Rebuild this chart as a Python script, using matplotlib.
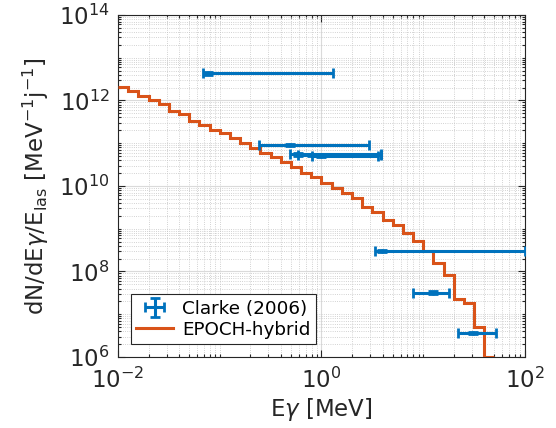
import numpy as np
import matplotlib
matplotlib.use("Agg")
import matplotlib.pyplot as plt
from matplotlib.ticker import LogLocator, NullFormatter

# --- Clarke (2006) measurements ---
clarke_energy = [0.077, 0.49, 0.59, 0.80, 1.0, 3.9, 12.6, 31.0]        # MeV
clarke_energy_lo = [0.069, 0.245, 0.49, 0.59, 0.80, 3.36, 7.98, 22.2]  # MeV
clarke_energy_hi = [1.31, 2.95, 3.85, 3.85, 3.6, 100.0, 17.8, 51.6]    # MeV
clarke_yield = [4.33e12, 9.1e10, 5.5e10, 5.25e10, 5.0e10, 3.0e8, 3.2e7, 3.6e6]
clarke_rel_err = 0.07

# --- EPOCH-hybrid spectrum (0.1-decade bins) ---
energy_edges = np.logspace(-2, 1.7, 38)
epoch_log_yield = [12.31, 12.22, 12.11, 12.01, 11.92, 11.76, 11.68, 11.53,
                   11.43, 11.31, 11.25, 11.12, 11.00, 10.88, 10.77, 10.67,
                   10.57, 10.45, 10.30, 10.22, 10.06, 9.95, 9.83, 9.71,
                   9.52, 9.40, 9.21, 9.09, 8.89, 8.72, 8.47, 8.19,
                   7.92, 7.35, 7.27, 6.69, 6.0]
epoch_yield = 10.0 ** np.array(epoch_log_yield)

x_ticks = [1e-2, 1e0, 1e2]
y_ticks = [1e6, 1e8, 1e10, 1e12, 1e14]

blue = "#0072BD"
orange = "#D95319"
dark = "#262626"

plt.rcParams["font.family"] = ["DejaVu Sans"]

fig = plt.figure(figsize=(5.56, 4.28), dpi=100)
ax = fig.add_axes([0.2122, 0.1659, 0.7320, 0.7991])

ax.set_xscale("log")
ax.set_yscale("log")

e = np.array(clarke_energy)
y = np.array(clarke_yield)
xerr = [e - np.array(clarke_energy_lo), np.array(clarke_energy_hi) - e]
yerr = [y - y / (1 + clarke_rel_err), y * (1 + clarke_rel_err) - y]
h_clarke = ax.errorbar(e, y, xerr=xerr, yerr=yerr, fmt=".", color=blue,
                       ms=4, elinewidth=2.2, capsize=3.5, capthick=2.0,
                       zorder=4, label="Clarke (2006)")

h_epoch = ax.stairs(epoch_yield, energy_edges, baseline=None, color=orange,
                    linewidth=2.2, zorder=3, label="EPOCH-hybrid")

ax.set_xlim(1e-2, 1e2)
ax.set_ylim(1e6, 1e14)
ax.set_xticks(x_ticks)
ax.set_yticks(y_ticks)
ax.xaxis.set_minor_locator(LogLocator(base=10, subs=np.arange(1, 10), numticks=100))
ax.yaxis.set_minor_locator(LogLocator(base=10, subs=np.arange(1, 10), numticks=100))
ax.xaxis.set_minor_formatter(NullFormatter())
ax.yaxis.set_minor_formatter(NullFormatter())

ax.grid(True, which="major", color="#dadada", linewidth=0.8, linestyle="-")
ax.grid(True, which="minor", color="#c4c4c4", linewidth=0.6, linestyle=":")
ax.set_axisbelow(True)

ax.tick_params(which="both", direction="in", top=True, right=True,
               colors=dark, labelsize=16.5, width=0.8)
ax.tick_params(which="major", length=5)
ax.tick_params(axis="y", which="major", pad=6)
ax.tick_params(axis="x", which="major", pad=8)
ax.tick_params(which="minor", length=2.5)
for sp in ax.spines.values():
    sp.set_color(dark)
    sp.set_linewidth(0.8)

ax.set_xlabel(r"E$\gamma$ [MeV]", fontsize=16.5, color=dark, labelpad=2)
ax.set_ylabel(r"dN/dE$\gamma$/E$_{\rm las}$ [MeV$^{-1}$j$^{-1}$]",
              fontsize=16.5, color=dark, labelpad=6)

leg = ax.legend([h_clarke, h_epoch], ["Clarke (2006)", "EPOCH-hybrid"],
                loc="lower left", fontsize=13.2, fancybox=False,
                framealpha=1, edgecolor=dark, borderaxespad=0.7,
                handlelength=2.0, borderpad=0.3, labelspacing=0.15,
                handletextpad=0.5)
leg.get_frame().set_linewidth(0.8)

fig.savefig("out.png", dpi=100)
